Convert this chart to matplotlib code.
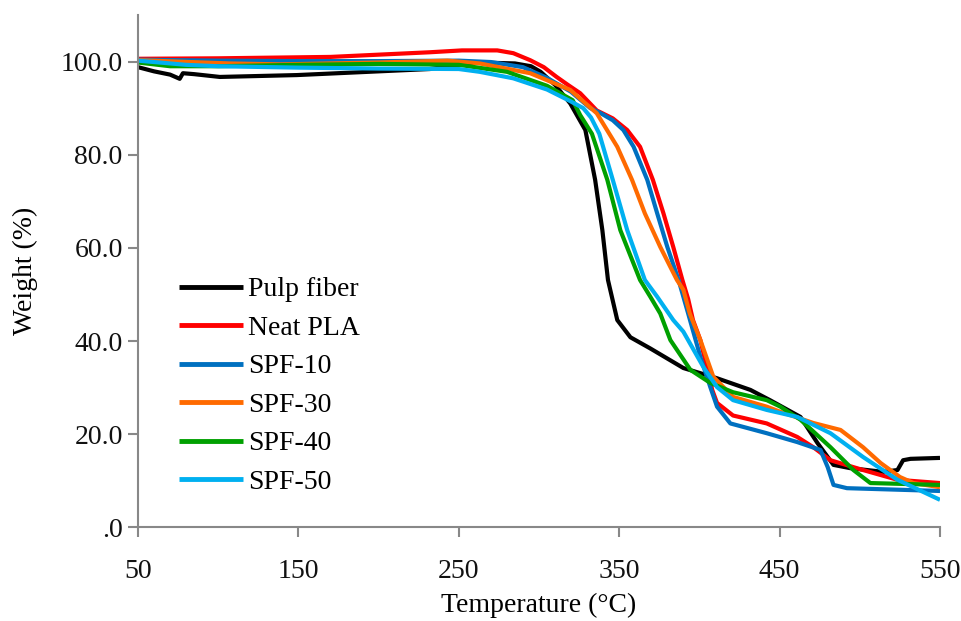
import matplotlib
matplotlib.use("Agg")
import matplotlib.pyplot as plt
from matplotlib.ticker import FuncFormatter

# ---- data ----
pulp_T = [50, 60, 70, 76, 78, 85, 101, 149, 200, 232, 250, 263, 285, 295, 301, 310, 319.5, 328.9, 335,
          339.5, 343, 348.8, 357, 369.4, 390, 411, 431.8, 444, 463, 473.6, 483.6, 494, 514.7,
          523.5, 527, 531.6, 550]
pulp_W = [98.8, 97.9, 97.2, 96.3, 97.5, 97.3, 96.7, 97.1, 97.9, 98.4, 99.3, 99.8, 99.6, 99.0, 97.8, 95.0,
          91.0, 85.3, 74.6, 63.8, 53.1, 44.5, 40.8, 38.4, 34.2, 32.0, 29.5, 27.3, 23.7,
          18.1, 13.4, 12.7, 11.9, 12.3, 14.4, 14.7, 14.9]

pla_T = [50, 100, 170, 232, 252, 274, 284, 294.5, 303, 311, 318, 325.7, 336, 346, 355, 363, 371, 377.6,
         383.7, 389.4, 393, 396, 400.6, 408, 411, 421, 442, 461, 471, 481.7, 502, 523.5, 550]
pla_W = [100.6, 100.7, 101.0, 102.0, 102.4, 102.4, 101.8, 100.3, 98.8, 96.7, 95.0, 93.2, 89.5, 87.8,
         85.3, 81.7, 74.6, 67.4, 60.2, 53.1, 49.0, 44.5, 40.2, 29.5, 26.7, 24.0, 22.3, 19.4, 17.2, 14.4,
         12.3, 10.2, 9.5]

spf10_T = [50, 100, 150, 200, 250, 270, 290, 305, 320, 332, 338, 346, 352.6, 359, 367.5, 373.7, 380, 387,
           393, 400.6, 406.8, 411, 419.3, 442, 461, 475.5, 480, 483.6, 492, 550]
spf10_W = [100.4, 100.2, 100.1, 100.1, 100.2, 99.9, 98.8, 96.5, 93.5, 90.0, 89.0, 87.4, 85.3, 81.7, 74.6,
           67.4, 60.2, 53.1, 45.9, 36.6, 30.1, 25.9, 22.3, 20.2, 18.3, 16.6, 12.9, 9.1, 8.4, 7.8]

spf30_T = [50, 107, 139, 200, 243, 263, 294.5, 305, 319.5, 336, 348.8, 358, 366, 375.6, 386, 390, 394,
           400.6, 408.7, 421, 442, 450.5, 471, 488, 502, 513, 525, 533.5, 550]
spf30_W = [100.3, 99.6, 99.4, 99.8, 100.2, 99.6, 97.5, 96.0, 93.9, 88.9, 81.7, 74.6, 67.4, 60.2, 53.1,
           51.0, 45.9, 40.2, 32.3, 28.0, 25.9, 24.8, 22.4, 20.9, 17.2, 13.8, 10.8, 9.5, 8.6]

spf40_T = [50, 70, 100, 150, 200, 250, 280, 305, 321, 325.7, 333, 342.6, 350.7, 363, 369.4, 375.6, 381.9,
           394.4, 406.8, 421, 442, 450.5, 463, 481.7, 496, 506.6, 550]
spf40_W = [99.8, 99.0, 99.0, 99.3, 99.5, 99.3, 97.8, 94.8, 91.7, 88.5, 84.5, 74.6, 63.8, 53.1, 49.5, 45.9,
           40.2, 33.8, 31.0, 29.0, 27.3, 25.9, 23.1, 17.2, 12.3, 9.5, 9.1]

spf50_T = [50, 80, 100, 150, 200, 250, 263, 284, 305, 319.5, 327.6, 332.4, 337.6, 346, 355, 366, 373.7,
           383.7, 390, 402.5, 411, 421, 442, 461, 481.7, 502, 523.5, 550]
spf50_W = [100.2, 99.3, 99.0, 98.7, 98.5, 98.4, 97.8, 96.4, 94.0, 91.5, 90.0, 88.0, 84.5, 74.6, 63.8, 53.1,
           49.5, 44.5, 42.0, 34.4, 30.1, 27.3, 25.2, 23.7, 20.2, 15.1, 10.2, 5.9]

labels = ["Pulp fiber", "Neat PLA", "SPF-10", "SPF-30", "SPF-40", "SPF-50"]
x_ticks = [50, 150, 250, 350, 450, 550]
y_ticks = [0, 20, 40, 60, 80, 100]

series = [(pulp_T, pulp_W), (pla_T, pla_W), (spf10_T, spf10_W),
          (spf30_T, spf30_W), (spf40_T, spf40_W), (spf50_T, spf50_W)]
colors = ["#000000", "#FF0000", "#0070C0", "#FF6A00", "#00A000", "#00B0F0"]

plt.rcParams['font.family'] = ['Liberation Serif', 'DejaVu Serif']

fig = plt.figure(figsize=(9.61, 6.21), dpi=100)
ax = fig.add_axes([138/961, 1 - 527.3/621, (940 - 138)/961, (527.3 - 15)/621])

for (t, w), c, lab in zip(series, colors, labels):
    ax.plot(t, w, color=c, lw=3.0, label=lab, solid_capstyle='butt', solid_joinstyle='round')

ax.set_xlim(50, 550)
ax.set_ylim(0, 110)
ax.set_xticks(x_ticks)
ax.set_yticks(y_ticks)

def yfmt(v, pos):
    s = f"{v:.1f}"
    return s[1:] if s.startswith("0") else s

ax.yaxis.set_major_formatter(FuncFormatter(yfmt))

for side in ["top", "right"]:
    ax.spines[side].set_visible(False)
for side in ["left", "bottom"]:
    ax.spines[side].set_color("#888888")
    ax.spines[side].set_linewidth(1.5)

ax.tick_params(axis='both', direction='out', length=7, width=1.5, color="#888888",
               labelsize=20, labelcolor="#111111")
ax.tick_params(axis='x', pad=16)
ax.tick_params(axis='y', pad=4)

ax.set_xlabel("Temperature (°C)", fontsize=20, labelpad=6)
ax.set_ylabel("Weight (%)", fontsize=20, labelpad=16)

leg = ax.legend(loc='upper left', bbox_to_anchor=(179/961, 1 - 277/621), bbox_transform=fig.transFigure,
                frameon=False, fontsize=20, handlelength=2.3, handletextpad=0.18,
                labelspacing=0.47, borderaxespad=0, borderpad=0)
for line in leg.get_lines():
    line.set_linewidth(3.5)

fig.savefig("out.png", dpi=100)
